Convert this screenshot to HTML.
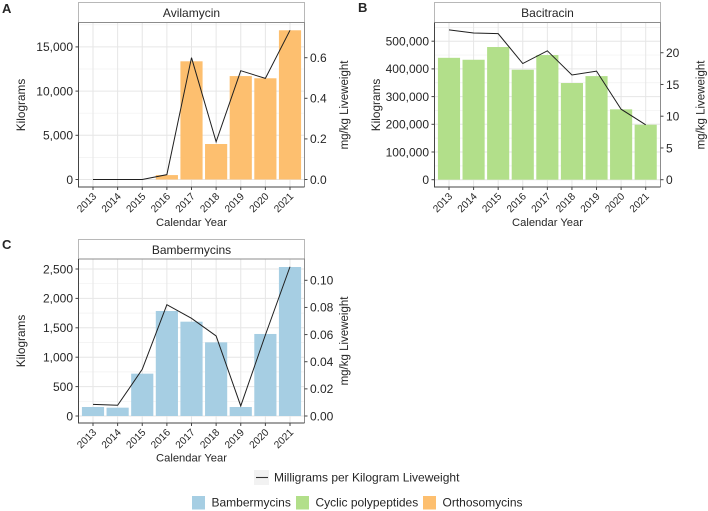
<!DOCTYPE html>
<html>
<head>
<meta charset="utf-8">
<style>
html,body{margin:0;padding:0;background:#fff;width:708px;height:511px;overflow:hidden}
svg{display:block;font-family:"Liberation Sans",Arial,sans-serif}
text{fill:#262626}
</style>
</head>
<body>
<svg id="chart" width="708" height="511" viewBox="0 0 708 511" xmlns="http://www.w3.org/2000/svg">
  <text x="2" y="13" font-size="13" font-weight="bold" fill="#000">A</text>
  <text x="358" y="12" font-size="13" font-weight="bold" fill="#000">B</text>
  <text x="2" y="249" font-size="13" font-weight="bold" fill="#000">C</text>

  <g>
    <rect x="254" y="470" width="15" height="15" fill="#f2f2f2"/>
    <line x1="256" x2="268" y1="477.5" y2="477.5" stroke="#333" stroke-width="1.1"/>
    <text x="274" y="481.7" font-size="12">Milligrams per Kilogram Liveweight</text>
  </g>
  <g>
    <rect x="192" y="496" width="13" height="13.5" fill="#a6cee3"/>
    <text x="211.500" y="506.700" font-size="12">Bambermycins</text>
    <rect x="296" y="496" width="13" height="13.500" fill="#b2df8a"/>
    <text x="315.500" y="506.700" font-size="12">Cyclic polypeptides</text>
    <rect x="423" y="496" width="13" height="13.500" fill="#fdbf6f"/>
    <text x="442.500" y="506.700" font-size="12">Orthosomycins</text>
  </g>
</svg>
<script>
const years = [2013, 2014, 2015, 2016, 2017, 2018, 2019, 2020, 2021];

const avilamycinKg = [0, 0, 0, 500, 13370, 4015, 11700, 11450, 16880];
const avilamycinMgKg = [0, 0, 0, 0.024, 0.6, 0.186, 0.536, 0.498, 0.735];
const avilamycinKgTicks = [0, 5000, 10000, 15000];
const avilamycinMgKgTicks = [0, 0.2, 0.4, 0.6];
const avilamycinMgKgLabels = ['0.0', '0.2', '0.4', '0.6'];

const bacitracinKg = [440000, 433000, 479000, 397000, 450000, 349000, 374000, 254000, 198500];
const bacitracinMgKg = [23.6, 23.1, 23.0, 18.3, 20.3, 16.5, 17.1, 11.1, 8.65];
const bacitracinKgTicks = [0, 100000, 200000, 300000, 400000, 500000];
const bacitracinMgKgTicks = [0, 5, 10, 15, 20];
const bacitracinMgKgLabels = ['0', '5', '10', '15', '20'];

const bambermycinsKg = [153, 142, 720, 1786, 1604, 1253, 153, 1395, 2534];
const bambermycinsMgKg = [0.0086, 0.0079, 0.0344, 0.082, 0.072, 0.059, 0.0074, 0.0597, 0.11];
const bambermycinsKgTicks = [0, 500, 1000, 1500, 2000, 2500];
const bambermycinsMgKgTicks = [0, 0.02, 0.04, 0.06, 0.08, 0.1];
const bambermycinsMgKgLabels = ['0.00', '0.02', '0.04', '0.06', '0.08', '0.10'];

const svg = document.getElementById('chart');
const NS = 'http://www.w3.org/2000/svg';

function mk(tag, attrs, parent) {
  const el = document.createElementNS(NS, tag);
  for (const k in attrs) el.setAttribute(k, attrs[k]);
  parent.appendChild(el);
  return el;
}

function fmt(v) {
  return String(v).replace(/\B(?=(\d{3})+(?!\d))/g, ',');
}

function drawPanel(o) {
  const g = mk('g', {}, svg);
  
  

  const x = i => o.x2013 + i * (o.x2021 - o.x2013) / (years.length - 1);
  const y = v => o.bottom - (v - o.kgDomain[0]) / (o.kgDomain[1] - o.kgDomain[0]) * (o.bottom - o.top);
  const y2 = v => o.bottom - (v - o.mgDomain[0]) / (o.mgDomain[1] - o.mgDomain[0]) * (o.bottom - o.top);
  const bw = 0.9 * (o.x2021 - o.x2013) / (years.length - 1);

  // strip
  const strip = mk('rect', {x: o.left, y: o.stripTop, width: o.right - o.left, height: o.top - o.stripTop, fill: '#fff', stroke: '#b8b8b8', 'stroke-width': 1}, g);
  
  
  const stripText = mk('text', {x: (o.left + o.right) / 2, y: o.stripTop + 14.7, 'font-size': 12, 'text-anchor': 'middle'}, g);
  stripText.textContent = o.title;
  
  

  // gridlines
  o.kgTicks.forEach((t, i) => {
    const major = mk('line', {x1: o.left, x2: o.right, y1: y(t), y2: y(t), stroke: '#e6e6e6', 'stroke-width': 1}, g);
    
    
    const step = o.kgTicks[1] - o.kgTicks[0];
    const minorV = t + step / 2;
    if (y(minorV) > o.top) {
      const minor = mk('line', {x1: o.left, x2: o.right, y1: y(minorV), y2: y(minorV), stroke: '#f0f0f0', 'stroke-width': 0.7}, g);
      
      
    }
  });
  years.forEach((yr, i) => {
    const gl = mk('line', {x1: x(i), x2: x(i), y1: o.top, y2: o.bottom, stroke: '#e6e6e6', 'stroke-width': 1}, g);
    
    
  });

  // bars
  o.kg.forEach((v, i) => {
    if (v <= 0) return;
    const bar = mk('rect', {x: x(i) - bw / 2, y: y(v), width: bw, height: y(0) - y(v), fill: o.color}, g);
    
    
  });

  // line
  const line = mk('polyline', {points: o.mg.map((v, i) => x(i) + ',' + y2(v)).join(' '), fill: 'none', stroke: '#1f1f1f', 'stroke-width': 1}, g);
  
  

  // panel border & axis lines
  const border = mk('path', {d: 'M' + o.left + ' ' + o.top + 'H' + o.right + 'V' + o.bottom, fill: 'none', stroke: '#8c8c8c', 'stroke-width': 1}, g);
  
  
  const axes = mk('path', {d: 'M' + o.left + ' ' + o.top + 'V' + o.bottom + 'H' + o.right, fill: 'none', stroke: '#444', 'stroke-width': 1}, g);
  
  

  // left ticks
  o.kgTicks.forEach(t => {
    const tick = mk('line', {x1: o.left - 3, x2: o.left, y1: y(t), y2: y(t), stroke: '#444', 'stroke-width': 1}, g);
    
    
    const label = mk('text', {x: o.left - 5.5, y: y(t) + 4.3, 'font-size': 12, 'text-anchor': 'end'}, g);
    label.textContent = fmt(t);
    
    
  });

  // right ticks
  o.mgTicks.forEach((t, i) => {
    const tick = mk('line', {x1: o.right, x2: o.right + 3, y1: y2(t), y2: y2(t), stroke: '#444', 'stroke-width': 1}, g);
    
    
    const label = mk('text', {x: o.right + 5.5, y: y2(t) + 4.3, 'font-size': 12}, g);
    label.textContent = o.mgLabels[i];
    
    
  });

  // x ticks
  years.forEach((yr, i) => {
    const tick = mk('line', {x1: x(i), x2: x(i), y1: o.bottom, y2: o.bottom + 3, stroke: '#444', 'stroke-width': 1}, g);
    
    
    const lx = x(i) + 4, ly = o.bottom + 10;
    const label = mk('text', {x: lx, y: ly, 'font-size': 10.2, 'text-anchor': 'end', transform: 'rotate(-45 ' + lx + ' ' + ly + ')'}, g);
    label.textContent = yr;
    
    
  });

  // axis titles
  const xt = mk('text', {x: (o.left + o.right) / 2, y: o.xTitleY, 'font-size': 11.2, 'text-anchor': 'middle'}, g);
  xt.textContent = 'Calendar Year';
  
  

  const yl = mk('text', {x: 0, y: 0, 'font-size': 11.8, 'text-anchor': 'middle', transform: 'translate(' + o.leftTitleX + ' ' + o.titleCy + ') rotate(-90)'}, g);
  yl.textContent = 'Kilograms';
  
  

  const yr = mk('text', {x: 0, y: 0, 'font-size': 11.5, 'text-anchor': 'middle', transform: 'translate(' + o.rightTitleX + ' ' + o.titleCy + ') rotate(-90)'}, g);
  yr.textContent = 'mg/kg Liveweight';
  
  
}

drawPanel({
  key: 'avilamycin', title: 'Avilamycin', color: '#fdbf6f',
  kg: avilamycinKg, mg: avilamycinMgKg,
  kgTicks: avilamycinKgTicks, mgTicks: avilamycinMgKgTicks, mgLabels: avilamycinMgKgLabels,
  kgDomain: [-848, 17760], mgDomain: [-0.0369, 0.7734],
  left: 78.5, right: 304.5, top: 22.5, bottom: 187, stripTop: 2.5,
  x2013: 93, x2021: 290, xTitleY: 226, leftTitleX: 25, rightTitleX: 348, titleCy: 105
});
drawPanel({
  key: 'bacitracin', title: 'Bacitracin', color: '#b2df8a',
  kg: bacitracinKg, mg: bacitracinMgKg,
  kgTicks: bacitracinKgTicks, mgTicks: bacitracinMgKgTicks, mgLabels: bacitracinMgKgLabels,
  kgDomain: [-26350, 567500], mgDomain: [-1.15, 24.76],
  left: 434.5, right: 660.5, top: 22.5, bottom: 187, stripTop: 2.5,
  x2013: 449, x2021: 645.7, xTitleY: 226, leftTitleX: 380, rightTitleX: 704.5, titleCy: 105
});
drawPanel({
  key: 'bambermycins', title: 'Bambermycins', color: '#a6cee3',
  kg: bambermycinsKg, mg: bambermycinsMgKg,
  kgTicks: bambermycinsKgTicks, mgTicks: bambermycinsMgKgTicks, mgLabels: bambermycinsMgKgLabels,
  kgDomain: [-119, 2670], mgDomain: [-0.00516, 0.1157],
  left: 78.5, right: 304.5, top: 259, bottom: 423, stripTop: 239.5,
  x2013: 93, x2021: 290, xTitleY: 461.5, leftTitleX: 25, rightTitleX: 348, titleCy: 341
});
</script>
</body>
</html>
